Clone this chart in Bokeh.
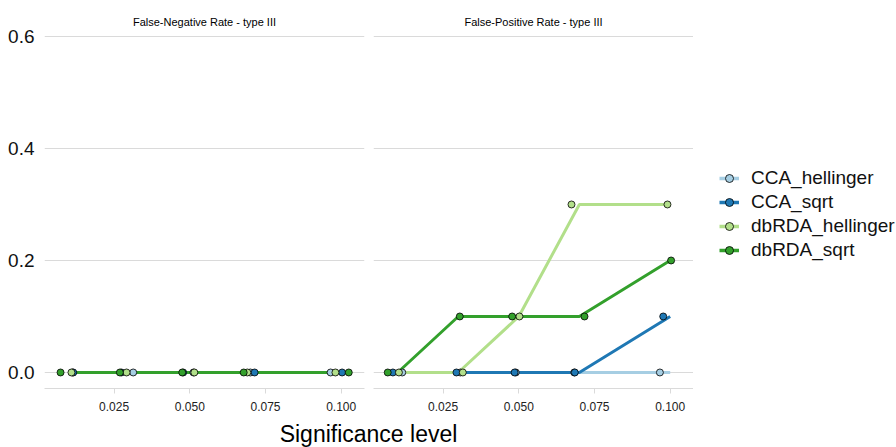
from bokeh.plotting import figure
from bokeh.layouts import row, column
from bokeh.models import FixedTicker, Legend, LegendItem, Range1d
from bokeh.embed import file_html
from bokeh.resources import INLINE

# ---- data ----
significance = [0.01, 0.03, 0.05, 0.07, 0.10]
methods = ["CCA_hellinger", "CCA_sqrt", "dbRDA_hellinger", "dbRDA_sqrt"]
colors = ["#A6CEE3", "#1F78B4", "#B2DF8A", "#33A02C"]

fn_CCA_hellinger = [0.0, 0.0, 0.0, 0.0, 0.0]
fn_CCA_sqrt = [0.0, 0.0, 0.0, 0.0, 0.0]
fn_dbRDA_hellinger = [0.0, 0.0, 0.0, 0.0, 0.0]
fn_dbRDA_sqrt = [0.0, 0.0, 0.0, 0.0, 0.0]

fp_CCA_hellinger = [0.0, 0.0, 0.0, 0.0, 0.0]
fp_CCA_sqrt = [0.0, 0.0, 0.0, 0.0, 0.1]
fp_dbRDA_hellinger = [0.0, 0.0, 0.1, 0.3, 0.3]
fp_dbRDA_sqrt = [0.0, 0.1, 0.1, 0.1, 0.2]

# jittered x positions of the points
fn_x_CCA_hellinger = [0.0113, 0.0313, 0.0512, 0.0700, 0.0965]
fn_x_CCA_sqrt = [0.0115, 0.0274, 0.0478, 0.0714, 0.1003]
fn_x_dbRDA_hellinger = [0.0109, 0.0291, 0.0515, 0.0690, 0.0981]
fn_x_dbRDA_sqrt = [0.0073, 0.0269, 0.0475, 0.0678, 0.1025]

fp_x_CCA_hellinger = [0.0115, 0.0307, 0.0490, 0.0683, 0.0966]
fp_x_CCA_sqrt = [0.0084, 0.0294, 0.0486, 0.0685, 0.0977]
fp_x_dbRDA_hellinger = [0.0104, 0.0315, 0.0502, 0.0674, 0.0991]
fp_x_dbRDA_sqrt = [0.0067, 0.0305, 0.0478, 0.0717, 0.1003]

x_ticks = [0.025, 0.05, 0.075, 0.1]
x_tick_labels = ["0.025", "0.050", "0.075", "0.100"]
y_ticks = [0.0, 0.2, 0.4, 0.6]
y_tick_labels = ["0.0", "0.2", "0.4", "0.6"]
x_title = "Significance level"

fn_rates = [fn_CCA_hellinger, fn_CCA_sqrt, fn_dbRDA_hellinger, fn_dbRDA_sqrt]
fp_rates = [fp_CCA_hellinger, fp_CCA_sqrt, fp_dbRDA_hellinger, fp_dbRDA_sqrt]
fn_xs = [fn_x_CCA_hellinger, fn_x_CCA_sqrt, fn_x_dbRDA_hellinger, fn_x_dbRDA_sqrt]
fp_xs = [fp_x_CCA_hellinger, fp_x_CCA_sqrt, fp_x_dbRDA_hellinger, fp_x_dbRDA_sqrt]

FONT = "Liberation Sans"
GRID = "#DADADA"
NAN = float("nan")


def make_panel(title, rates, xs, width, border_left, border_right, show_y):
    p = figure(width=width, height=417, output_backend="svg", toolbar_location=None,
               x_range=Range1d(0.002, 0.1077), y_range=Range1d(-0.0286, 0.6071),
               min_border_left=border_left, min_border_right=border_right,
               min_border_top=32, min_border_bottom=29)
    p.outline_line_color = None
    p.title.text = title
    p.title.align = "center"
    p.title.text_font = FONT
    p.title.text_font_size = "11px"
    p.title.text_font_style = "normal"
    p.title.text_color = "#000000"
    p.title.standoff = 10

    xa = p.xaxis[0]
    xa.ticker = FixedTicker(ticks=x_ticks)
    xa.major_label_overrides = {t: l for t, l in zip(x_ticks, x_tick_labels)}
    xa.major_label_text_font = FONT
    xa.major_label_text_font_size = "12px"
    xa.major_label_text_color = "#222222"
    xa.axis_line_color = GRID
    xa.major_tick_line_color = GRID
    xa.major_tick_out = 5
    xa.major_tick_in = 0
    xa.minor_tick_line_color = None
    xa.minor_tick_out = 0
    xa.major_label_standoff = 8

    ya = p.yaxis[0]
    ya.ticker = FixedTicker(ticks=y_ticks)
    ya.major_label_overrides = {t: l for t, l in zip(y_ticks, y_tick_labels)}
    ya.major_label_text_font = FONT
    ya.major_label_text_font_size = "19px"
    ya.major_label_text_color = "#111111"
    ya.axis_line_color = None
    ya.major_tick_line_color = None
    ya.minor_tick_line_color = None
    ya.major_tick_out = 0
    ya.major_tick_in = 0
    ya.minor_tick_out = 0
    ya.major_label_standoff = 10
    ya.visible = show_y

    p.xgrid.visible = False
    p.ygrid.ticker = FixedTicker(ticks=y_ticks)
    p.ygrid.grid_line_color = GRID
    p.ygrid.grid_line_width = 1

    for c, r in zip(colors, rates):
        p.line(significance, r, line_color=c, line_width=3)
    for c, r, x in zip(colors, rates, xs):
        p.scatter(x, r, size=7, fill_color=c, line_color="#000000", line_width=0.8)
    return p


p1 = make_panel("False-Negative Rate - type III", fn_rates, fn_xs, 368, 44, 4, True)
p2 = make_panel("False-Positive Rate - type III", fp_rates, fp_xs, 325, 5, 0, False)

# legend panel (legend-only renderers carry no visible data)
pleg = figure(width=203, height=417, output_backend="svg", toolbar_location=None,
              x_range=Range1d(0, 1), y_range=Range1d(0, 1),
              x_axis_type=None, y_axis_type=None,
              min_border_left=0, min_border_right=0, min_border_top=0, min_border_bottom=0)
pleg.outline_line_color = None
items = []
for m, c in zip(methods, colors):
    lr = pleg.line([NAN], [NAN], line_color=c, line_width=3.5)
    sr = pleg.scatter([NAN], [NAN], size=7, fill_color=c, line_color="#000000", line_width=0.8)
    items.append(LegendItem(label=m, renderers=[lr, sr]))
legend = Legend(items=items, location=(26, 127))
legend.label_text_font = FONT
legend.label_text_font_size = "19px"
legend.label_text_color = "#111111"
legend.glyph_width = 20
legend.glyph_height = 20
legend.label_height = 20
legend.label_standoff = 12
legend.spacing = 2
legend.padding = 4
legend.margin = 0
legend.border_line_color = None
legend.background_fill_alpha = 0
pleg.add_layout(legend)

# shared x-axis title as a strip below both panels
p3 = figure(width=736, height=30, output_backend="svg", toolbar_location=None,
            title=x_title, x_range=Range1d(0, 1), y_range=Range1d(0, 1),
            x_axis_type=None, y_axis_type=None,
            min_border_left=0, min_border_right=0, min_border_top=0, min_border_bottom=0)
p3.outline_line_color = None
p3.title.align = "center"
p3.title.text_font = FONT
p3.title.text_font_size = "23px"
p3.title.text_font_style = "normal"
p3.title.text_color = "#000000"
p3.title.standoff = 2
p3.title.offset = 0

layout = column(row(p1, p2, pleg), p3)
open("out.html", "w").write(file_html(layout, INLINE))
